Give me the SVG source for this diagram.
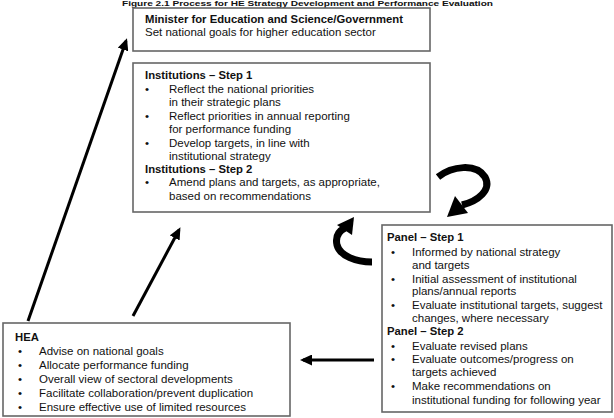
<svg xmlns="http://www.w3.org/2000/svg" width="614" height="418" viewBox="0 0 614 418">
<defs>
<style>
text{font-family:"Liberation Sans",Arial,sans-serif;font-size:11.5px;fill:#111}
.b{font-weight:bold;font-size:11.3px}
.t{font-weight:bold;font-size:7.6px}
.box{fill:#fff;stroke:#666;stroke-width:1.6}
.ln{stroke:#000;stroke-width:3;fill:none}
.cv{stroke:#000;stroke-width:7;fill:none;stroke-linecap:butt}
</style>
<marker id="ah" viewBox="0 0 12 11" refX="9" refY="5.5" markerWidth="12" markerHeight="11" markerUnits="userSpaceOnUse" orient="auto">
<path d="M0,0 L12,5.5 L0,11 Z" fill="#000"/>
</marker>
</defs>
<text class="t" x="122" y="5.8" textLength="371" lengthAdjust="spacingAndGlyphs">Figure 2.1 Process for HE Strategy Development and Performance Evaluation</text>

<g id="minister">
<rect class="box" x="133" y="8" width="297" height="43"/>
<text class="b" x="145" y="23">Minister for Education and Science/Government</text>
<text x="145" y="36">Set national goals for higher education sector</text>
</g>

<g id="institutions">
<rect class="box" x="133" y="63" width="297" height="149"/>
<text class="b" x="145" y="79">Institutions – Step 1</text>
<text x="145" y="93">•</text><text x="169" y="93">Reflect the national priorities</text>
<text x="169" y="106">in their strategic plans</text>
<text x="145" y="120">•</text><text x="169" y="120">Reflect priorities in annual reporting</text>
<text x="169" y="133">for performance funding</text>
<text x="145" y="147">•</text><text x="169" y="147">Develop targets, in line with</text>
<text x="169" y="160">institutional strategy</text>
<text class="b" x="145" y="173">Institutions – Step 2</text>
<text x="145" y="186">•</text><text x="169" y="186">Amend plans and targets, as appropriate,</text>
<text x="169" y="200">based on recommendations</text>
</g>

<g id="panel">
<rect class="box" x="382" y="225" width="230" height="187"/>
<text class="b" x="387" y="241">Panel – Step 1</text>
<text x="391" y="256">•</text><text x="412" y="256">Informed by national strategy</text>
<text x="412" y="269">and targets</text>
<text x="391" y="283">•</text><text x="412" y="283">Initial assessment of institutional</text>
<text x="412" y="295">plans/annual reports</text>
<text x="391" y="309">•</text><text x="412" y="309">Evaluate institutional targets, suggest</text>
<text x="412" y="322">changes, where necessary</text>
<text class="b" x="387" y="335">Panel – Step 2</text>
<text x="391" y="350">•</text><text x="412" y="350">Evaluate revised plans</text>
<text x="391" y="363">•</text><text x="412" y="363">Evaluate outcomes/progress on</text>
<text x="412" y="376">targets achieved</text>
<text x="391" y="390">•</text><text x="412" y="390">Make recommendations on</text>
<text x="412" y="404">institutional funding for following year</text>
</g>

<g id="hea">
<rect class="box" x="3" y="323" width="287" height="93"/>
<text class="b" x="15" y="341">HEA</text>
<text x="18" y="355">•</text><text x="39" y="355">Advise on national goals</text>
<text x="18" y="369">•</text><text x="39" y="369">Allocate performance funding</text>
<text x="18" y="383">•</text><text x="39" y="383">Overall view of sectoral developments</text>
<text x="18" y="397">•</text><text x="39" y="397">Facilitate collaboration/prevent duplication</text>
<text x="18" y="411">•</text><text x="39" y="411">Ensure effective use of limited resources</text>
</g>

<g id="connectors">
<line class="ln" x1="28" y1="321" x2="126" y2="41" marker-end="url(#ah)"/>
<line class="ln" x1="133" y1="316" x2="179" y2="230" marker-end="url(#ah)"/>
<line class="ln" x1="374" y1="360" x2="303" y2="360" marker-end="url(#ah)"/>
<path class="cv" d="M438,177 C452,166 476,163 485,177 C492,190 478,201 462,205"/>
<polygon points="447,217 455,196 468,213"/>
<path class="cv" d="M372,262 C356,262 340,256 337,245 C335,236 339,231 345,228"/>
<polygon points="354,217 337,225 352,235"/>
</g>
</svg>
